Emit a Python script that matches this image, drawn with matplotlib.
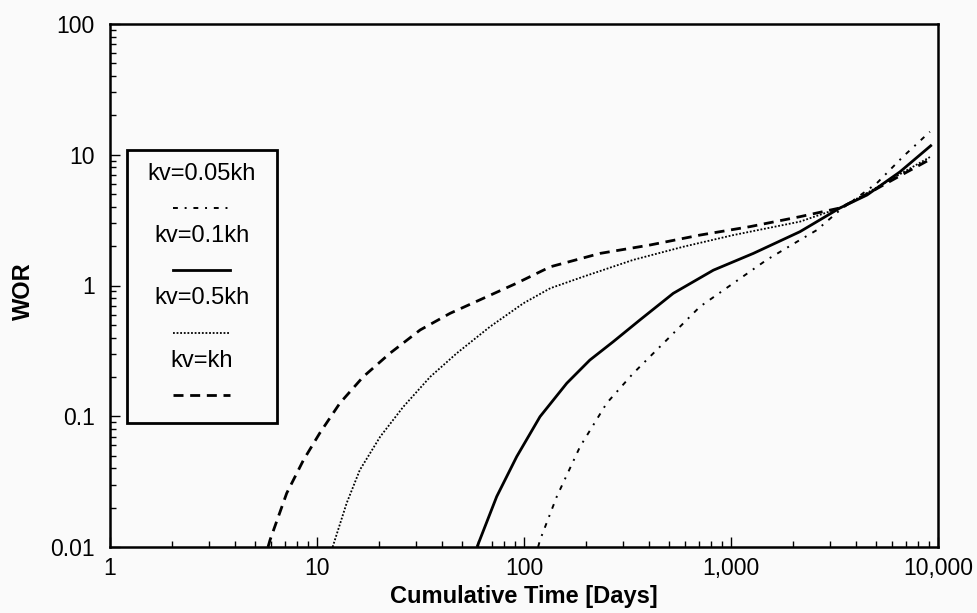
import matplotlib
matplotlib.use("Agg")
import matplotlib.pyplot as plt
from matplotlib.patches import Rectangle
from matplotlib.lines import Line2D
from matplotlib.ticker import FixedLocator, FixedFormatter, LogLocator, NullFormatter

plt.rcParams['font.family'] = ['Liberation Sans', 'DejaVu Sans']

# 曲线数据
days_005 = [117, 119.5, 144, 186.5, 251, 337, 489, 708, 1026, 1487, 2154, 2594, 3364, 5058, 6776, 9140]
wor_005 = [0.01, 0.0113, 0.0243, 0.0585, 0.126, 0.213, 0.383, 0.689, 1.04, 1.57, 2.23, 2.65, 3.78, 6.05, 9.67, 15.0]

days_01 = [59.3, 73.8, 92.2, 119.5, 161, 208, 270, 363, 526, 822, 1282, 2154, 3364, 4540, 6550, 9330]
wor_01 = [0.01, 0.0243, 0.0491, 0.0993, 0.179, 0.269, 0.372, 0.545, 0.871, 1.31, 1.76, 2.58, 3.92, 4.92, 7.4, 11.9]

days_05 = [11.9, 13.9, 16.1, 20.2, 26.1, 35.2, 47.3, 68.5, 99.3, 134, 194, 337, 589, 1026, 2154, 3364, 4540, 6550, 9140]
wor_05 = [0.01, 0.0216, 0.0388, 0.0698, 0.118, 0.200, 0.303, 0.484, 0.731, 0.953, 1.17, 1.57, 1.98, 2.43, 3.08, 3.92, 5.1, 7.1, 9.6]

days_1 = [5.8, 5.93, 7.14, 8.6, 10.3, 12.9, 16.7, 22.5, 31.5, 43.9, 63.6, 92, 134, 233, 406, 708, 1236, 2154, 3364, 4540, 6550, 9140]
wor_1 = [0.01, 0.0113, 0.0258, 0.0462, 0.0741, 0.126, 0.200, 0.303, 0.457, 0.612, 0.798, 1.04, 1.39, 1.76, 2.04, 2.43, 2.82, 3.36, 3.92, 5.0, 6.9, 9.2]

labels = ['kv=0.05kh', 'kv=0.1kh', 'kv=0.5kh', 'kv=kh']
styles = [
    dict(ls=(0, (2.5, 3.5, 1, 3.5)), lw=1.4),
    dict(ls='-', lw=2.0),
    dict(ls=(0, (1, 1)), lw=1.3),
    dict(ls=(0, (3.6, 2.4)), lw=2.0),
]

xticks = [1, 10, 100, 1000, 10000]
xticklabels = ['1', '10', '100', '1,000', '10,000']
yticks = [0.01, 0.1, 1, 10, 100]
yticklabels = ['0.01', '0.1', '1', '10', '100']

fig = plt.figure(figsize=(9.78, 6.13), dpi=100, facecolor='#fafafa')
ax = fig.add_axes([110 / 978, 1 - 547 / 613, 828 / 978, 523 / 613])
ax.set_facecolor('#fafafa')

series = [(days_005, wor_005), (days_01, wor_01), (days_05, wor_05), (days_1, wor_1)]
for (d, w), st in zip(series, styles):
    ax.plot(d, w, color='black', solid_capstyle='butt', dash_capstyle='butt', **st)

ax.set_xscale('log')
ax.set_yscale('log')
ax.set_xlim(1, 10000)
ax.set_ylim(0.01, 100)

ax.xaxis.set_major_locator(FixedLocator(xticks))
ax.xaxis.set_major_formatter(FixedFormatter(xticklabels))
ax.yaxis.set_major_locator(FixedLocator(yticks))
ax.yaxis.set_major_formatter(FixedFormatter(yticklabels))
ax.xaxis.set_minor_locator(LogLocator(base=10, subs=range(2, 10)))
ax.yaxis.set_minor_locator(LogLocator(base=10, subs=range(2, 10)))
ax.xaxis.set_minor_formatter(NullFormatter())
ax.yaxis.set_minor_formatter(NullFormatter())

ax.tick_params(which='both', direction='in', top=False, right=False, width=1, color='black')
ax.tick_params(which='major', length=7)
ax.tick_params(which='minor', length=4)
ax.tick_params(axis='x', which='major', labelsize=16.5, pad=7)
ax.tick_params(axis='y', which='major', labelsize=16.5, pad=11)
for s in ax.spines.values():
    s.set_linewidth(1.8)

ax.set_xlabel('Cumulative Time [Days]', fontsize=17, fontweight='bold')
ax.set_ylabel('WOR', fontsize=17, fontweight='bold')
ax.xaxis.set_label_coords(0.5, -0.072)
ax.yaxis.set_label_coords(-0.091, 0.49)

# 手工画图例：文字在上，线样在下
box = Rectangle((0.0205, 0.237), 0.1812, 0.522, transform=ax.transAxes,
                fill=False, lw=2, ec='black', zorder=5)
ax.add_patch(box)
text_y = [0.713, 0.595, 0.476, 0.356]
line_y = [0.648, 0.530, 0.409, 0.291]
for lab, st, ty, ly in zip(labels, styles, text_y, line_y):
    ax.text(0.111, ty, lab, transform=ax.transAxes, ha='center', va='center', fontsize=17)
    ax.add_line(Line2D([0.076, 0.145], [ly, ly], transform=ax.transAxes, color='black', **st))

fig.savefig('out.png', dpi=100, facecolor=fig.get_facecolor())
